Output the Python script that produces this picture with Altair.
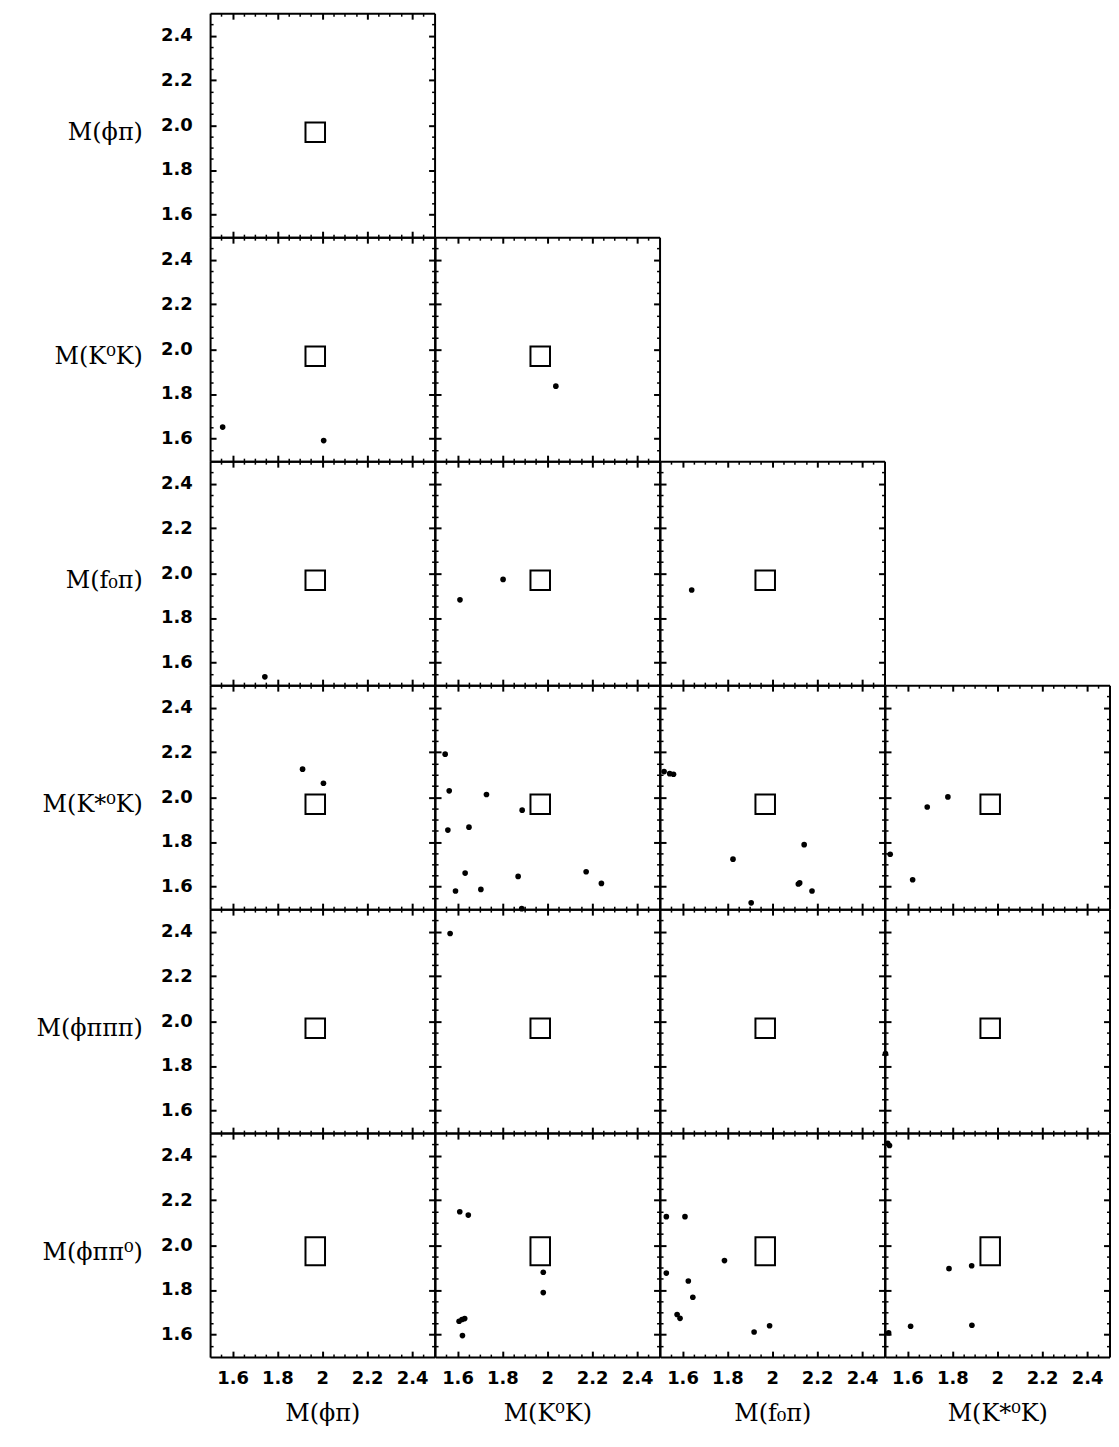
import altair as alt
import pandas as pd

# ---- variables (rows use all six, columns the first four) ----
var_labels = ["M(ϕπ)", "M(K⁰K)", "M(f₀π)", "M(K*⁰K)", "M(ϕπππ)", "M(ϕππ⁰)"]
box_lo = [1.925, 1.925, 1.925, 1.925, 1.925, 1.91]
box_hi = [2.012, 2.012, 2.012, 2.012, 2.012, 2.035]

major_ticks = [1.6, 1.8, 2.0, 2.2, 2.4]
minor_ticks = [1.55, 1.65, 1.7, 1.75, 1.85, 1.9, 1.95, 2.05, 2.1, 2.15,
               2.25, 2.3, 2.35, 2.45]

# ---- event masses per panel (y = row variable, x = column variable) ----
k0k_phipi_x = [1.556, 2.006]
k0k_phipi_y = [1.652, 1.592]

k0k_k0k_x = [2.038]
k0k_k0k_y = [1.835]

f0pi_phipi_x = [1.744]
f0pi_phipi_y = [1.537]

f0pi_k0k_x = [1.611, 1.803]
f0pi_k0k_y = [1.881, 1.972]

f0pi_f0pi_x = [1.641]
f0pi_f0pi_y = [1.925]

kst_phipi_x = [1.912, 2.005]
kst_phipi_y = [2.125, 2.062]

kst_k0k_x = [1.545, 1.563, 1.729, 1.888, 1.557, 1.651, 1.634, 1.591, 1.704,
             1.870, 2.173, 2.241, 1.886]
kst_k0k_y = [2.192, 2.028, 2.012, 1.942, 1.853, 1.866, 1.661, 1.581, 1.588,
             1.646, 1.667, 1.615, 1.502]

kst_f0pi_x = [1.518, 1.543, 1.560, 1.825, 2.142, 2.116, 2.122, 2.177, 1.906]
kst_f0pi_y = [2.114, 2.105, 2.102, 1.723, 1.788, 1.612, 1.617, 1.581, 1.528]

kst_kst_x = [1.523, 1.623, 1.688, 1.780]
kst_kst_y = [1.745, 1.631, 1.956, 2.001]

phi3pi_k0k_x = [1.567]
phi3pi_k0k_y = [2.391]

phi3pi_kst_x = [1.502]
phi3pi_kst_y = [1.855]

phipipi0_k0k_x = [1.610, 1.648, 1.982, 1.982, 1.607, 1.620, 1.632, 1.622]
phipipi0_k0k_y = [2.149, 2.134, 1.879, 1.788, 1.660, 1.668, 1.672, 1.596]

phipipi0_f0pi_x = [1.528, 1.611, 1.528, 1.626, 1.646, 1.576, 1.589, 1.787,
                   1.919, 1.988]
phipipi0_f0pi_y = [2.127, 2.127, 1.875, 1.840, 1.767, 1.690, 1.673, 1.931,
                   1.612, 1.640]

phipipi0_kst_x = [1.512, 1.520, 1.516, 1.614, 1.785, 1.886, 1.887]
phipipi0_kst_y = [2.455, 2.445, 1.609, 1.638, 1.895, 1.908, 1.642]

panel_points = {
    (1, 0): (k0k_phipi_x, k0k_phipi_y),
    (1, 1): (k0k_k0k_x, k0k_k0k_y),
    (2, 0): (f0pi_phipi_x, f0pi_phipi_y),
    (2, 1): (f0pi_k0k_x, f0pi_k0k_y),
    (2, 2): (f0pi_f0pi_x, f0pi_f0pi_y),
    (3, 0): (kst_phipi_x, kst_phipi_y),
    (3, 1): (kst_k0k_x, kst_k0k_y),
    (3, 2): (kst_f0pi_x, kst_f0pi_y),
    (3, 3): (kst_kst_x, kst_kst_y),
    (4, 1): (phi3pi_k0k_x, phi3pi_k0k_y),
    (4, 3): (phi3pi_kst_x, phi3pi_kst_y),
    (5, 1): (phipipi0_k0k_x, phipipi0_k0k_y),
    (5, 2): (phipipi0_f0pi_x, phipipi0_f0pi_y),
    (5, 3): (phipipi0_kst_x, phipipi0_kst_y),
}

W = 225.5
H = 225
NROWS = 6
NCOLS = 4

LABEL_FONT = "DejaVu Sans"
TITLE_FONT = "DejaVu Serif"


def make_axis(orient, kind, show_labels=False, title=None, is_x=True):
    d = dict(orient=orient, grid=False, tickColor="black", domainColor="black")
    if kind == "major":
        d.update(values=major_ticks, tickSize=alt.ExprRef(expr="-6"),
                 tickWidth=2, domain=True, domainWidth=2)
    else:
        d.update(values=minor_ticks, tickSize=alt.ExprRef(expr="-3"),
                 tickWidth=1.5, domain=False)
    if show_labels:
        d.update(labels=True, labelFont=LABEL_FONT, labelFontWeight="bold",
                 labelFontSize=18, labelColor="black", labelOverlap=False,
                 labelPadding=19 if is_x else 24,
                 format="~g" if is_x else ".1f")
    else:
        d.update(labels=False)
    if title:
        d.update(title=title, titleFont=TITLE_FONT, titleFontWeight="normal",
                 titleFontSize=24, titleColor="black")
        if is_x:
            d.update(titleY=57, titleBaseline="middle")
        else:
            d.update(titleAngle=0, titleAlign="right", titleBaseline="middle",
                     titleX=-68, titleY=120)
    else:
        d.update(title=None)
    return alt.Axis(**d)


def make_panel(r, c):
    scale = alt.Scale(domain=[1.5, 2.5], nice=False, zero=False)
    box_df = pd.DataFrame({"bx0": [box_lo[c]], "bx1": [box_hi[c]],
                           "by0": [box_lo[r]], "by1": [box_hi[r]]})
    base = alt.Chart(box_df)
    bottom = r == NROWS - 1
    left = c == 0

    box = base.mark_rect(fillOpacity=0, stroke="black", strokeWidth=2).encode(
        x=alt.X("bx0:Q", scale=scale,
                axis=make_axis("bottom", "major", bottom,
                               var_labels[c] if bottom else None, True)),
        x2="bx1:Q",
        y=alt.Y("by0:Q", scale=scale,
                axis=make_axis("left", "major", left,
                               var_labels[r] if left else None, False)),
        y2="by1:Q",
    )
    g_major_tr = base.mark_rect(opacity=0).encode(
        x=alt.X("bx0:Q", scale=scale, axis=make_axis("top", "major")),
        x2="bx1:Q",
        y=alt.Y("by0:Q", scale=scale, axis=make_axis("right", "major", is_x=False)),
        y2="by1:Q",
    )
    g_minor_bl = base.mark_rect(opacity=0).encode(
        x=alt.X("bx0:Q", scale=scale, axis=make_axis("bottom", "minor")),
        x2="bx1:Q",
        y=alt.Y("by0:Q", scale=scale, axis=make_axis("left", "minor", is_x=False)),
        y2="by1:Q",
    )
    g_minor_tr = base.mark_rect(opacity=0).encode(
        x=alt.X("bx0:Q", scale=scale, axis=make_axis("top", "minor")),
        x2="bx1:Q",
        y=alt.Y("by0:Q", scale=scale, axis=make_axis("right", "minor", is_x=False)),
        y2="by1:Q",
    )
    layers = [box, g_major_tr, g_minor_bl, g_minor_tr]
    if (r, c) in panel_points:
        xs, ys = panel_points[(r, c)]
        pts = alt.Chart(pd.DataFrame({"px": xs, "py": ys})).mark_circle(
            size=32, color="black", opacity=1
        ).encode(
            x=alt.X("px:Q", scale=scale, axis=None),
            y=alt.Y("py:Q", scale=scale, axis=None),
        )
        layers.append(pts)
    return alt.layer(*layers).resolve_axis(x="independent", y="independent").properties(
        width=W, height=H)


def make_blank():
    scale = alt.Scale(domain=[1.5, 2.5], nice=False, zero=False)
    return alt.Chart(pd.DataFrame({"px": [1.5], "py": [1.5]})).mark_point(
        opacity=0).encode(
        x=alt.X("px:Q", scale=scale, axis=None),
        y=alt.Y("py:Q", scale=scale, axis=None),
    ).properties(width=W, height=H)


cells = []
for r in range(NROWS):
    for c in range(NCOLS):
        if c <= r:
            cells.append(make_panel(r, c))
        else:
            cells.append(make_blank())

chart = alt.concat(*cells, columns=NCOLS, spacing=0, bounds="flush").properties(
    padding={"left": 27, "top": 0, "right": 0, "bottom": 0},
    background="white",
).configure_view(stroke="transparent")

chart.save("out.html", embed_options={"renderer": "svg", "actions": False})
